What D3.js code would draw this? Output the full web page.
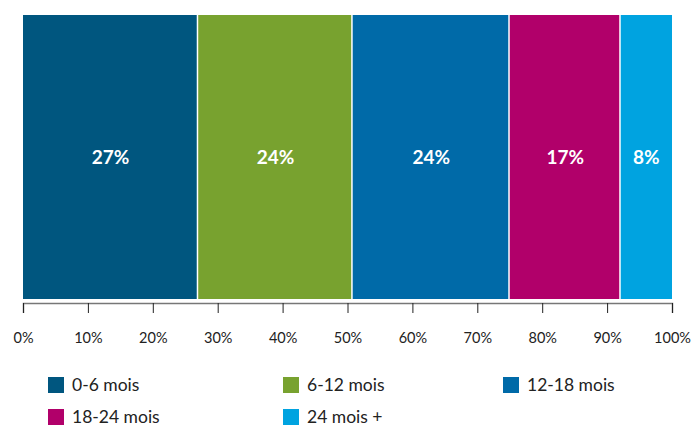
<!DOCTYPE html>
<html lang="fr">
<head>
<meta charset="utf-8">
<script src="https://d3js.org/d3.v7.min.js"></script>
<style>
  body { margin: 0; background: #fff; }
  text { font-family: Lato, "Open Sans", sans-serif; }
</style>
</head>
<body>
<div id="chart"></div>
<script>
// categories and values (share of total, %)
var categories = ["0-6 mois", "6-12 mois", "12-18 mois", "18-24 mois", "24 mois +"];
var values = [27, 23.8, 24.2, 17.1, 7.9];
var colors = ["#00567f", "#78a22f", "#006aa8", "#b1006a", "#00a3e0"];
var tickValues = [0, 10, 20, 30, 40, 50, 60, 70, 80, 90, 100];

var width = 696, height = 427;
var svg = d3.select("#chart").append("svg").attr("width", width).attr("height", height);

var x = d3.scaleLinear().domain([0, 100]).range([23, 672]);
var barTop = 15, barBottom = 299;

// stacked segments
var acc = 0;
var segs = values.map(function(v, i) {
  var s = { start: acc, end: acc + v, v: v, i: i };
  acc += v;
  return s;
});

svg.append("g").selectAll("rect").data(segs).enter().append("rect")
  .attr("x", function(d) { return x(d.start); })
  .attr("y", barTop)
  .attr("width", function(d) { return x(d.end) - x(d.start) - (d.i < segs.length - 1 ? 1.5 : 0); })
  .attr("height", barBottom - barTop)
  .attr("fill", function(d) { return colors[d.i]; });

svg.append("g").selectAll("text").data(segs).enter().append("text")
  .attr("x", function(d) { return (x(d.start) + x(d.end)) / 2; })
  .attr("y", 164)
  .attr("text-anchor", "middle")
  .attr("fill", "#fff")
  .attr("font-weight", "bold")
  .attr("font-size", 19)
  .text(function(d) { return Math.round(d.v) + "%"; });

// axis
var axis = d3.axisBottom(x).tickValues(tickValues).tickSize(10).tickPadding(20)
  .tickFormat(function(d) { return d + "%"; });
var ax = svg.append("g").attr("transform", "translate(0,303)").call(axis);
ax.select(".domain").attr("stroke", "#777").attr("stroke-width", 1.5);
ax.selectAll(".tick line").attr("stroke", "#222");
ax.selectAll(".tick text").attr("font-size", 14.5).attr("fill", "#222")
  .style("font-family", "Lato, 'Open Sans', sans-serif");

// legend
var legX = [48, 283, 503], legY = [377, 409];
var leg = svg.append("g").selectAll("g").data(categories).enter().append("g")
  .attr("transform", function(d, i) { return "translate(" + legX[i % 3] + "," + legY[Math.floor(i / 3)] + ")"; });
leg.append("rect").attr("width", 16).attr("height", 16)
  .attr("fill", function(d, i) { return colors[i]; });
leg.append("text").attr("x", 24).attr("y", 14)
  .attr("font-size", 17.5).attr("fill", "#222")
  .text(function(d) { return d; });
</script>
</body>
</html>
